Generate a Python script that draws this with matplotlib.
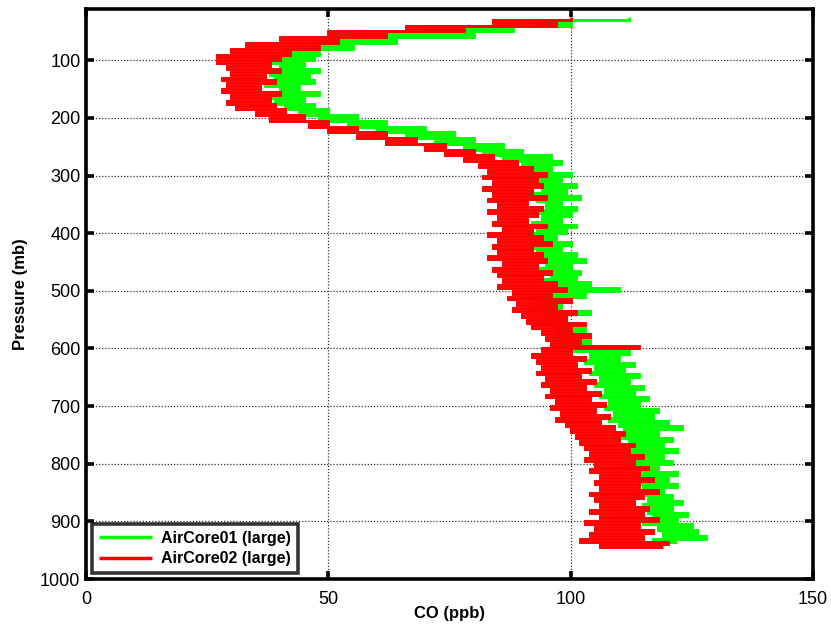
import numpy as np
import matplotlib
matplotlib.use("Agg")
import matplotlib.pyplot as plt

plt.rcParams['font.family'] = ['Liberation Sans', 'DejaVu Sans']

# Pressure grids (mb), 5 mb sampling
p_core01 = np.arange(25, 936, 5)
p_core02 = np.arange(25, 946, 5)

# CO (ppb), AirCore01 (green)
co_core01 = [
    112, 93, 100, 70, 88, 56, 80, 49, 64, 47,
    55, 41, 48, 38, 47, 37, 45, 40, 48, 38,
    46, 39, 47, 37, 44, 40, 48, 38, 45, 39,
    47, 41, 50, 44, 56, 48, 62, 54, 70, 60,
    76, 66, 80, 72, 86, 78, 90, 82, 96, 86,
    98, 90, 96, 91, 100, 93, 98, 92, 101, 94,
    99, 92, 102, 93, 98, 95, 101, 92, 100, 94,
    98, 92, 101, 93, 99, 91, 97, 94, 100, 92,
    98, 93, 101, 94, 103, 95, 100, 93, 102, 96,
    101, 94, 104, 97, 110, 95, 103, 92, 100, 94,
    98, 91, 104, 95, 99, 93, 101, 96, 103, 97,
    102, 96, 104, 98, 103, 99, 112, 104, 110, 103,
    113, 105, 111, 104, 114, 106, 112, 105, 115, 107,
    113, 106, 116, 108, 114, 107, 118, 109, 117, 108,
    120, 110, 123, 111, 118, 109, 121, 112, 119, 111,
    122, 112, 119, 113, 121, 112, 118, 114, 122, 113,
    120, 114, 122, 115, 119, 113, 121, 116, 123, 115,
    121, 116, 124, 117, 122, 115, 125, 118, 126, 119,
    128, 117, 122,
]

# CO (ppb), AirCore02 (red)
co_core02 = [
    100, 84, 97, 66, 78, 50, 62, 40, 52, 33,
    48, 30, 42, 27, 40, 27, 38, 29, 40, 30,
    37, 28, 39, 29, 36, 28, 40, 30, 38, 29,
    39, 31, 41, 35, 45, 38, 50, 46, 56, 50,
    62, 56, 68, 62, 74, 70, 80, 74, 84, 78,
    89, 81, 92, 83, 95, 82, 93, 84, 94, 82,
    92, 84, 95, 83, 91, 85, 94, 83, 93, 85,
    91, 84, 95, 86, 92, 83, 94, 85, 96, 84,
    92, 85, 94, 83, 95, 86, 93, 84, 96, 85,
    94, 86, 97, 85, 99, 88, 96, 87, 100, 89,
    97, 88, 101, 90, 99, 91, 103, 92, 100, 94,
    104, 95, 102, 96, 114, 94, 100, 92, 103, 93,
    101, 94, 104, 93, 102, 95, 105, 94, 103, 96,
    106, 95, 104, 97, 107, 96, 105, 98, 108, 97,
    106, 99, 109, 100, 111, 101, 110, 102, 113, 103,
    112, 104, 115, 103, 113, 105, 116, 104, 114, 106,
    117, 105, 114, 106, 118, 104, 115, 105, 113, 106,
    116, 104, 115, 106, 118, 103, 114, 105, 117, 104,
    115, 102, 120, 106, 119,
]

labels = ["AirCore01 (large)", "AirCore02 (large)"]
x_ticks = [0, 50, 100, 150]
y_ticks = [100, 200, 300, 400, 500, 600, 700, 800, 900, 1000]

fig = plt.figure(figsize=(8.31, 6.32), dpi=100)
ax = fig.add_axes([86/831, 1 - 579/632, (813-86)/831, (579-9)/632])

ax.plot(co_core01, p_core01, color='#00ff00', lw=2.1, label=labels[0],
        drawstyle='steps-pre', solid_joinstyle='miter', solid_capstyle='butt')
ax.plot(co_core02, p_core02, color='#ff0000', lw=2.1, label=labels[1],
        drawstyle='steps-pre', solid_joinstyle='miter', solid_capstyle='butt')

ax.set_xlim(0, 150)
ax.set_ylim(1000, 11)
ax.set_xticks(x_ticks)
ax.set_yticks(y_ticks)
ax.grid(True, linestyle=(0, (1, 1.5)), color='#333333', linewidth=0.9)
ax.set_axisbelow(True)

for s in ax.spines.values():
    s.set_linewidth(2.6)
    s.set_color('black')
ax.tick_params(direction='in', length=6, width=2.6, top=True, right=True,
               labelsize=13)
ax.tick_params(axis='x', pad=9)
ax.tick_params(axis='y', pad=4)

ax.set_xlabel("CO (ppb)", fontsize=12, fontweight='bold', labelpad=-2)
ax.set_ylabel("Pressure (mb)", fontsize=12, fontweight='bold', labelpad=9)

leg = ax.legend(loc='lower left', bbox_to_anchor=(0.008, 0.01), borderaxespad=0,
                frameon=True, fancybox=False, edgecolor='black',
                prop={'weight': 'bold', 'size': 11.5}, handlelength=3.3,
                borderpad=0.45, labelspacing=0.32, handletextpad=0.6)
leg.get_frame().set_linewidth(2.6)
for h in leg.get_lines():
    h.set_linewidth(2.5)

fig.savefig("out.png", dpi=100)
